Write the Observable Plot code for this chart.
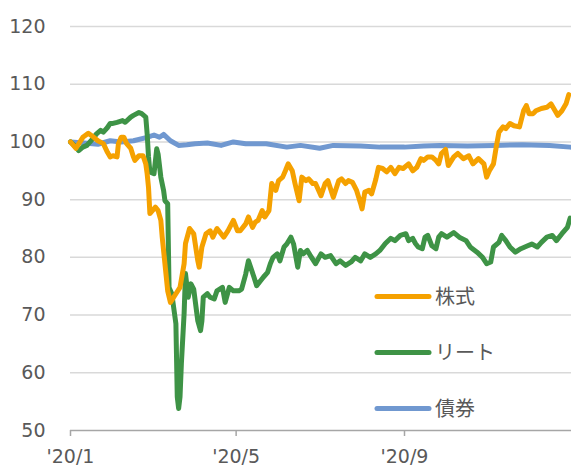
<!DOCTYPE html>
<html>
<head>
<meta charset="utf-8">
<script src="https://cdn.jsdelivr.net/npm/d3@7"></script>
<script src="https://cdn.jsdelivr.net/npm/@observablehq/plot@0.6"></script>
<style>
  html, body { margin: 0; padding: 0; background: #fff; }
</style>
</head>
<body>
<div id="chart"></div>
<script>
// Series names (legend order)
const seriesNames = ["株式", "リート", "債券"];
const seriesColors = ["#f5a100", "#3e9346", "#7098d0"];

// Days since 2020-01-01 and index values (start = 100)
const stockDays = [0,4,9,13,17,20,24,27,29,31,34,35,37,39,41,44,46,47,50,53,55,56,57,58,62,64,66,67,68,71,73,77,80,83,84,87,90,93,94,96,99,102,104,107,110,112,115,119,122,124,128,130,133,135,137,140,142,145,147,150,152,155,157,159,162,164,167,169,172,174,177,179,183,186,188,192,196,198,201,203,206,209,212,213,215,218,220,223,225,228,231,234,237,240,243,247,250,253,256,258,261,264,267,269,271,274,276,280,283,287,291,294,298,302,304,306,309,311,313,316,318,321,324,328,331,333,335,338,340,344,348,351,354,356,359,362,364];
const stockValues = [100,98.9,100.8,101.5,100.8,100.2,99.7,98.2,97.4,97.6,97.4,99.7,100.8,100.8,99.7,98.9,97.4,96.8,97.6,97.6,96.2,94.5,92.1,87.6,88.7,88.1,86.4,83.5,81.2,74.2,72.2,73.7,74.8,78.9,82.4,85.0,84.1,79.4,78.3,81.8,84.1,84.6,83.5,85.0,84.1,83.5,84.6,86.4,84.6,84.6,85.8,87.0,85.2,86.1,86.4,88.1,87.0,88.1,92.8,91.6,93.3,93.9,95.0,96.2,95.0,92.8,89.8,93.9,93.3,93.6,92.8,92.8,90.7,92.8,93.3,90.4,93.3,93.6,92.8,93.3,93.0,91.6,89.3,88.4,91.3,91.6,91.0,93.5,95.6,95.4,94.8,95.6,94.5,95.6,95.4,96.2,95.0,95.6,97.1,96.8,97.4,97.4,96.8,96.2,98.0,98.7,95.9,97.4,98.0,97.1,97.6,96.2,97.1,96.2,93.9,95.0,96.2,99.1,101.7,102.6,102.3,103.2,102.8,102.6,105.4,106.3,104.9,104.9,105.4,105.8,106.0,106.6,105.4,104.6,105.4,106.6,108.2];

const reitDays = [0,4,6,9,12,16,19,22,24,27,29,31,34,38,40,44,46,50,52,55,56,57,58,61,63,64,66,68,69,71,72,74,77,78,79,80,81,83,84,86,88,90,93,95,96,97,100,102,105,107,111,113,116,119,123,125,128,130,134,136,139,141,144,146,148,151,153,156,158,161,163,166,168,170,173,175,179,183,186,190,194,197,201,205,208,212,215,219,223,226,230,234,237,241,245,247,250,252,254,257,259,261,264,267,269,271,275,280,284,289,292,297,301,304,307,309,313,315,318,321,325,329,334,337,341,344,348,352,355,359,363,365];
const reitValues = [100,99.1,98.5,99.1,99.4,100.5,101.4,102.0,101.7,102.5,103.2,103.2,103.4,103.7,103.4,104.3,104.6,105.1,104.9,104.3,101.4,97.4,94.8,94.5,98.8,97.9,93.9,91.6,89.8,89.3,74.8,73.7,68.5,55.8,53.8,55.8,61.6,70.3,77.2,73.1,75.4,74.5,69.0,67.3,69.0,73.1,73.7,73.1,72.8,74.2,74.8,72.2,74.8,74.2,74.2,74.5,77.1,79.4,76.6,75.1,76.0,76.6,77.4,78.9,80.0,80.6,79.4,81.8,82.3,83.5,82.3,78.3,81.2,80.6,81.2,80.4,78.9,80.6,80.0,80.3,78.9,79.4,78.6,79.2,80.0,79.4,80.6,80.0,80.6,81.2,82.4,83.3,82.9,83.8,84.1,82.9,83.3,82.4,81.8,81.5,83.5,83.8,82.0,81.5,83.5,84.1,83.5,84.3,83.5,82.9,81.8,80.9,80.0,78.9,79.2,81.8,82.6,83.8,82.9,81.8,80.9,81.5,82.0,82.3,81.8,82.6,83.5,83.8,82.9,84.1,85.2,86.8];

const bondDays = [0,10,20,29,37,46,56,61,65,68,73,79,85,91,100,110,119,128,143,158,168,182,192,212,226,244,258,270,290,310,330,350,365];
const bondValues = [100,99.8,99.6,100.2,100.0,100.2,100.8,101.2,100.8,101.3,100.2,99.4,99.5,99.7,99.8,99.4,100.0,99.7,99.7,99.1,99.4,98.9,99.4,99.3,99.1,99.1,99.3,99.4,99.3,99.4,99.5,99.4,99.1];

// Axis ticks
const yTicks = [50, 60, 70, 80, 90, 100, 110, 120];
const xTickDays = [0, 121, 244];
const xTickLabels = ["'20/1", "'20/5", "'20/9"];

const toDate = d => new Date(Date.UTC(2020, 0, 1 + d));
const build = (days, values, name) => days.map((d, i) => ({date: toDate(d), value: values[i], series: name}));

const stock = build(stockDays, stockValues, seriesNames[0]);
const reit = build(reitDays, reitValues, seriesNames[1]);
const bond = build(bondDays, bondValues, seriesNames[2]);

const lineOpts = (color) => ({x: "date", y: "value", stroke: color, strokeWidth: 5, strokeLinejoin: "round", strokeLinecap: "round"});

const chart = Plot.plot({
  width: 571,
  height: 469,
  marginLeft: 70,
  marginRight: 0,
  marginTop: 26,
  marginBottom: 39,
  style: {fontFamily: "DejaVu Sans, sans-serif", fontSize: "19px", color: "#595959", background: "#fff", overflow: "visible"},
  x: {type: "utc", domain: [toDate(0), toDate(366)]},
  y: {domain: [50, 120]},
  marks: [
    Plot.gridY(yTicks.filter(t => t > 50), {stroke: "#d9d9d9", strokeOpacity: 1, strokeWidth: 1.5}),
    Plot.ruleY([50], {stroke: "#a6a6a6", strokeWidth: 1.5}),
    Plot.axisY({ticks: yTicks, tickSize: 0, tickPadding: 25, label: null, fontSize: 19}),
    Plot.axisX({ticks: xTickDays.map(toDate), tickFormat: (d, i) => xTickLabels[i], tickSize: 6, tickPadding: 13, stroke: "#a6a6a6", strokeWidth: 1.5, label: null, fontSize: 19}),
    Plot.line(bond, lineOpts(seriesColors[2])),
    Plot.line(reit, lineOpts(seriesColors[1])),
    Plot.line(stock, lineOpts(seriesColors[0]))
  ]
});

// Legend inside the plot area
const svg = d3.select(chart);
const lg = svg.append("g")
  .attr("font-family", "'Noto Sans CJK JP', sans-serif")
  .attr("font-size", 20)
  .attr("fill", "#595959")
  .attr("text-anchor", "start");
const legendY = [296.5, 352.5, 408.5];
seriesNames.forEach((name, i) => {
  lg.append("line").attr("x1", 377).attr("x2", 429).attr("y1", legendY[i]).attr("y2", legendY[i])
    .attr("stroke", seriesColors[i]).attr("stroke-width", 5).attr("stroke-linecap", "round");
  lg.append("text").attr("x", 435).attr("y", legendY[i]).attr("dy", "0.35em").text(name);
});

document.getElementById("chart").appendChild(chart);
</script>
</body>
</html>
